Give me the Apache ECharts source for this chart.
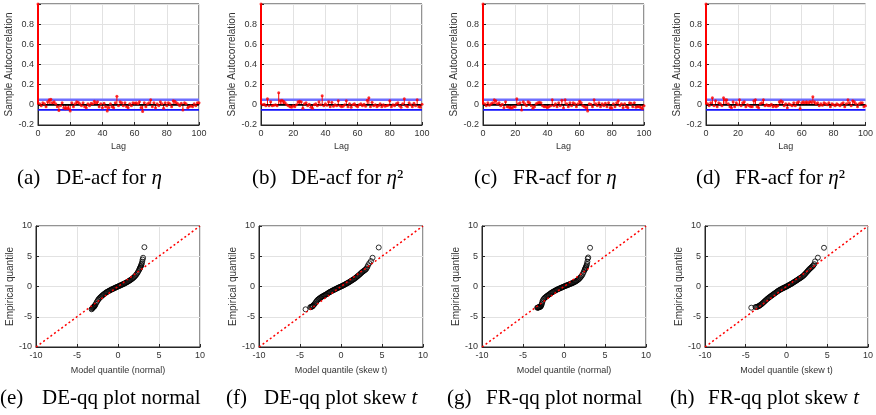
<!DOCTYPE html>
<html><head><meta charset="utf-8">
<script src="https://cdn.jsdelivr.net/npm/echarts@6/dist/echarts.min.js"></script>
<style>html,body{margin:0;padding:0;background:#fff}#c{width:876px;height:415px}</style>
</head><body><div id="c"></div>
<script>
// ---- ACF values, lag 0..100 ----
const acfDEeta = [1,
 0.01,-0.01,0.02,0.01,-0.02,0.03,0.05,0.055,0.02,0.03,
 0.01,-0.02,-0.055,-0.01,0.02,-0.03,-0.04,-0.035,-0.04,-0.06,
 0.02,-0.02,0.01,0.03,0.025,0.01,-0.01,0.02,-0.02,-0.03,
 0.01,-0.01,0.015,0.01,0.035,0.02,0.03,-0.02,0.01,-0.03,
 0.015,-0.02,-0.06,-0.03,0.01,-0.02,-0.03,0.02,0.085,-0.01,
 0.03,0.02,-0.01,0.02,-0.02,-0.03,0.01,-0.01,0.02,0.015,
 0.02,0.01,0.03,-0.03,-0.065,0.02,-0.02,0.01,0.02,0.05,
 -0.02,0.02,-0.03,0.01,-0.01,0.03,0.01,-0.035,0.02,-0.01,
 0.02,0.01,-0.02,0.04,0.035,0.02,0.01,-0.01,0.015,-0.05,
 0.02,0.01,-0.03,-0.02,-0.01,-0.02,0.01,-0.01,0.02,0.02];
const acfDEeta2 = [1,
 0.0,0.005,-0.01,0.06,-0.01,0.03,-0.01,-0.005,0.0,-0.01,
 0.12,0.04,0.045,0.035,0.02,0.0,-0.01,-0.02,-0.025,-0.01,
 -0.02,0.0,0.03,0.035,0.03,-0.035,0.01,0.02,-0.01,0.005,
 -0.025,-0.035,0.0,0.01,-0.01,0.03,0.0,0.09,-0.01,0.01,
 -0.005,0.03,-0.02,0.025,-0.015,0.0,-0.01,0.04,-0.01,-0.02,
 -0.015,0.0,0.04,-0.02,0.01,-0.025,0.0,0.01,-0.01,-0.02,
 0.0,0.01,-0.01,0.005,-0.015,0.045,0.07,-0.02,0.025,-0.01,
 0.0,-0.02,-0.01,0.01,-0.02,0.0,-0.015,-0.01,-0.005,0.04,
 -0.02,0.0,-0.01,0.01,0.02,-0.01,-0.025,0.01,0.06,-0.01,
 -0.02,0.02,0.0,-0.02,0.015,-0.01,0.05,-0.02,-0.025,0.005];
const acfFReta = [1,
 0.01,-0.01,0.02,-0.005,0.01,0.02,0.05,0.04,0.01,0.02,
 -0.01,0.005,-0.03,0.03,-0.02,-0.025,-0.03,-0.035,-0.02,-0.02,
 0.06,0.01,0.02,-0.05,0.03,0.01,-0.01,0.03,0.02,-0.01,
 -0.035,-0.02,0.01,0.02,0.025,0.02,-0.01,-0.02,-0.02,-0.03,
 -0.02,-0.01,0.05,-0.01,0.01,-0.02,0.02,-0.01,0.045,-0.03,
 0.05,0.01,-0.02,0.02,-0.01,0.02,0.01,-0.02,0.01,0.035,
 0.02,-0.01,-0.02,-0.03,-0.06,0.01,0.005,-0.02,0.05,0.01,
 -0.01,0.02,-0.02,0.01,-0.01,0.015,-0.02,0.02,-0.03,-0.035,
 0.01,-0.02,0.02,0.04,-0.01,0.01,-0.03,0.01,-0.02,-0.03,
 0.02,0.015,-0.02,0.02,-0.025,-0.02,-0.02,-0.03,-0.04,-0.01];
const acfFReta2 = [1,
 0.01,-0.01,0.02,0.07,-0.01,0.04,-0.02,0.02,0.01,-0.01,
 0.07,0.05,0.05,0.01,-0.02,-0.03,0.03,-0.02,0.02,0.0,
 0.05,-0.01,0.02,0.03,-0.02,0.0,-0.01,-0.02,-0.02,0.04,
 0.05,-0.02,-0.03,0.01,0.02,0.05,-0.01,0.0,-0.01,-0.01,
 0.005,-0.02,-0.01,-0.02,-0.01,0.03,0.04,0.03,-0.01,0.01,
 -0.03,0.01,0.0,-0.01,0.02,-0.01,0.02,0.03,-0.04,0.02,
 0.03,0.02,0.03,0.02,0.03,0.03,0.08,0.03,0.01,0.02,
 -0.01,0.01,-0.005,0.02,0.01,0.0,0.02,-0.02,0.01,0.0,
 -0.01,0.01,0.0,-0.01,0.01,0.02,-0.02,0.01,0.05,0.02,
 -0.01,0.04,0.03,0.01,-0.02,0.01,0.02,0.02,-0.02,-0.01];
const acfBound = [0.05, -0.05];

// ---- QQ points [model quantile, empirical quantile] ----
const qqDEnormal = [[-3.22,-3.77],[-3.15,-3.65],[-3.1,-3.55],[-3.05,-3.48],[-3.0,-3.4],[-2.95,-3.35],[-2.9,-3.3],[-2.85,-3.2],[-2.8,-3.1],[-2.7,-2.85],[-2.6,-2.6],[-2.5,-2.38],[-2.4,-2.15],[-2.3,-2.0],[-2.2,-1.85],[-2.1,-1.72],[-2.0,-1.6],[-1.9,-1.47],[-1.8,-1.35],[-1.7,-1.25],[-1.6,-1.15],[-1.5,-1.05],[-1.4,-0.95],[-1.3,-0.87],[-1.2,-0.8],[-1.1,-0.72],[-1.0,-0.65],[-0.9,-0.57],[-0.8,-0.5],[-0.7,-0.44],[-0.6,-0.38],[-0.5,-0.31],[-0.4,-0.25],[-0.3,-0.18],[-0.2,-0.12],[-0.1,-0.06],[0,0],[0.1,0.06],[0.2,0.12],[0.3,0.18],[0.4,0.25],[0.5,0.31],[0.6,0.37],[0.7,0.43],[0.8,0.5],[0.9,0.57],[1.0,0.65],[1.1,0.72],[1.2,0.8],[1.3,0.88],[1.4,0.97],[1.5,1.06],[1.6,1.15],[1.7,1.25],[1.8,1.35],[1.9,1.47],[2.0,1.6],[2.1,1.75],[2.2,1.9],[2.3,2.1],[2.4,2.3],[2.5,2.55],[2.6,2.8],[2.65,2.95],[2.7,3.1],[2.75,3.25],[2.8,3.4],[2.85,3.6],[2.9,3.8],[2.95,4.1],[3.0,4.45],[3.06,4.75],[3.22,6.5]];
const qqDEskewt = [[-4.32,-3.77],[-3.75,-3.42],[-3.65,-3.38],[-3.55,-3.33],[-3.5,-3.3],[-3.45,-3.22],[-3.4,-3.15],[-3.3,-3.0],[-3.2,-2.85],[-3.1,-2.65],[-3.0,-2.45],[-2.9,-2.3],[-2.8,-2.15],[-2.7,-2.05],[-2.6,-1.95],[-2.5,-1.85],[-2.4,-1.75],[-2.3,-1.67],[-2.2,-1.6],[-2.1,-1.52],[-2.0,-1.45],[-1.9,-1.37],[-1.8,-1.3],[-1.7,-1.21],[-1.6,-1.12],[-1.5,-1.03],[-1.4,-0.95],[-1.3,-0.87],[-1.2,-0.8],[-1.1,-0.72],[-1.0,-0.65],[-0.9,-0.58],[-0.8,-0.52],[-0.7,-0.45],[-0.6,-0.38],[-0.5,-0.31],[-0.4,-0.25],[-0.3,-0.18],[-0.2,-0.12],[-0.1,-0.06],[0,0],[0.1,0.06],[0.2,0.13],[0.3,0.2],[0.4,0.27],[0.5,0.35],[0.6,0.42],[0.7,0.5],[0.8,0.57],[0.9,0.65],[1.0,0.72],[1.1,0.81],[1.2,0.9],[1.3,0.99],[1.4,1.08],[1.5,1.16],[1.6,1.25],[1.7,1.35],[1.8,1.45],[1.9,1.56],[2.0,1.68],[2.1,1.79],[2.2,1.9],[2.3,2.02],[2.4,2.15],[2.5,2.28],[2.6,2.4],[2.7,2.5],[2.8,2.6],[2.9,2.7],[3.0,2.8],[3.1,2.95],[3.2,3.2],[3.3,3.5],[3.45,3.85],[3.65,4.2],[3.85,4.75],[4.6,6.45]];
const qqFRnormal = [[-3.27,-3.5],[-3.2,-3.5],[-3.15,-3.48],[-3.1,-3.45],[-3.05,-3.43],[-3.0,-3.4],[-2.95,-3.38],[-2.9,-3.35],[-2.85,-3.3],[-2.8,-3.2],[-2.75,-3.05],[-2.7,-2.85],[-2.65,-2.6],[-2.6,-2.35],[-2.5,-2.1],[-2.4,-1.95],[-2.3,-1.82],[-2.2,-1.7],[-2.1,-1.6],[-2.0,-1.5],[-1.9,-1.4],[-1.8,-1.3],[-1.7,-1.2],[-1.6,-1.1],[-1.5,-1.01],[-1.4,-0.92],[-1.3,-0.85],[-1.2,-0.77],[-1.1,-0.7],[-1.0,-0.62],[-0.9,-0.55],[-0.8,-0.48],[-0.7,-0.42],[-0.6,-0.36],[-0.5,-0.3],[-0.4,-0.24],[-0.3,-0.18],[-0.2,-0.12],[-0.1,-0.06],[0,0],[0.1,0.055],[0.2,0.11],[0.3,0.165],[0.4,0.22],[0.5,0.27],[0.6,0.33],[0.7,0.38],[0.8,0.44],[0.9,0.5],[1.0,0.55],[1.1,0.61],[1.2,0.68],[1.3,0.75],[1.4,0.82],[1.5,0.9],[1.6,1.0],[1.7,1.1],[1.8,1.2],[1.9,1.35],[2.0,1.5],[2.1,1.67],[2.2,1.85],[2.3,2.1],[2.4,2.4],[2.5,2.7],[2.55,2.85],[2.6,3.0],[2.65,3.15],[2.7,3.3],[2.75,3.5],[2.8,3.75],[2.85,4.1],[2.9,4.6],[2.95,4.8],[3.18,6.4]];
const qqFRskewt = [[-4.32,-3.5],[-3.8,-3.4],[-3.7,-3.38],[-3.6,-3.35],[-3.5,-3.3],[-3.4,-3.25],[-3.3,-3.15],[-3.2,-3.05],[-3.1,-2.95],[-3.0,-2.85],[-2.9,-2.72],[-2.8,-2.6],[-2.7,-2.47],[-2.6,-2.35],[-2.5,-2.22],[-2.4,-2.1],[-2.3,-1.99],[-2.2,-1.88],[-2.1,-1.78],[-2.0,-1.68],[-1.9,-1.58],[-1.8,-1.48],[-1.7,-1.38],[-1.6,-1.28],[-1.5,-1.19],[-1.4,-1.1],[-1.3,-1.0],[-1.2,-0.9],[-1.1,-0.8],[-1.0,-0.7],[-0.9,-0.62],[-0.8,-0.55],[-0.7,-0.47],[-0.6,-0.4],[-0.5,-0.33],[-0.4,-0.26],[-0.3,-0.2],[-0.2,-0.13],[-0.1,-0.07],[0,0],[0.1,0.07],[0.2,0.15],[0.3,0.22],[0.4,0.3],[0.5,0.37],[0.6,0.45],[0.7,0.53],[0.8,0.62],[0.9,0.71],[1.0,0.8],[1.1,0.88],[1.2,0.96],[1.3,1.05],[1.4,1.15],[1.5,1.24],[1.6,1.33],[1.7,1.41],[1.8,1.5],[1.9,1.6],[2.0,1.7],[2.1,1.82],[2.2,1.95],[2.3,2.1],[2.4,2.25],[2.5,2.4],[2.6,2.55],[2.7,2.7],[2.8,2.85],[2.9,2.97],[3.0,3.1],[3.1,3.22],[3.2,3.35],[3.3,3.5],[3.4,3.7],[3.5,4.15],[3.85,4.77],[4.6,6.4]];
const qqRefLine = [[-10,-10],[10,10]];

// ---- text ----
const acfXName = 'Lag';
const acfYName = 'Sample Autocorrelation';
const qqYName = 'Empirical quantile';
const qqXNames = ['Model quantile (normal)','Model quantile (skew t)','Model quantile (normal)','Model quantile (skew t)'];
const capLabels = ['(a)','(b)','(c)','(d)','(e)','(f)','(g)','(h)'];
const capBodies = ['DE-acf for {i|η}','DE-acf for {i|η}²','FR-acf for {i|η}','FR-acf for {i|η}²',
  'DE-qq plot normal','DE-qq plot skew {i|t}','FR-qq plot normal','FR-qq plot skew {i|t}'];

// ---- layout ----
const acfSets = [acfDEeta, acfDEeta2, acfFReta, acfFReta2];
const qqSets = [qqDEnormal, qqDEskewt, qqFRnormal, qqFRskewt];
const acfLefts = [38, 261, 483, 706];
const qqLefts = [36, 259, 482, 705];
const capX = [17, 252, 474, 696, 0, 226, 447, 670];
const capBodyOff = [39, 39, 39, 39, 42, 38, 39, 38];
const capY = [168, 168, 168, 168, 388, 388, 388, 388];
const CAP_SIZE = 21;

const FONT = '"Liberation Sans", Arial, sans-serif';
const AX = '#262626';
const labelStyle = {fontFamily: FONT, fontSize: 9, color: '#333'};
const grids = [], xAxes = [], yAxes = [], series = [];

function axisCommon() {
  return {
    axisLine: {show: true, onZero: false, lineStyle: {color: AX, width: 1}},
    axisTick: {show: true, inside: true, length: 3, lineStyle: {color: AX}},
    splitLine: {show: true, lineStyle: {color: '#e2e2e2', width: 1}},
    nameTextStyle: {fontFamily: FONT, fontSize: 9, color: '#333'}
  };
}

acfSets.forEach((d, k) => {
  grids.push({left: acfLefts[k], top: 4, width: 161, height: 121, show: true, borderColor: AX, borderWidth: 1});
  xAxes.push(Object.assign(axisCommon(), {gridIndex: k, type: 'value', min: 0, max: 100, interval: 20,
    name: acfXName, nameLocation: 'middle', nameGap: 17,
    axisLabel: Object.assign({margin: 4}, labelStyle)}));
  yAxes.push(Object.assign(axisCommon(), {gridIndex: k, type: 'value', min: -0.2, max: 1, interval: 0.2,
    name: acfYName, nameLocation: 'middle', nameGap: 17, nameTextStyle: {fontFamily: FONT, fontSize: 10, color: '#333'},
    axisLabel: Object.assign({margin: 4, formatter: v => (Math.abs(v - 1) < 1e-9 ? '' : String(+v.toFixed(1)))}, labelStyle)}));
  const pts = d.map((v, i) => [i, v]);
  series.push({type: 'line', xAxisIndex: k, yAxisIndex: k, data: [[0, acfBound[0]], [100, acfBound[0]]], symbol: 'none', silent: true, z: 2,
    lineStyle: {color: '#6e6eff', width: 2.5}});
  series.push({type: 'line', xAxisIndex: k, yAxisIndex: k, data: [[0, acfBound[1]], [100, acfBound[1]]], symbol: 'none', silent: true, z: 2,
    lineStyle: {color: '#1010ff', width: 1.6}});
  series.push({type: 'custom', xAxisIndex: k, yAxisIndex: k, data: pts, silent: true, z: 3,
    renderItem: (params, api) => {
      const lag = api.value(0), val = api.value(1);
      const p0 = api.coord([lag, 0]), p1 = api.coord([lag, val]);
      return {type: 'line', shape: {x1: p0[0], y1: p0[1], x2: p1[0], y2: p1[1]},
        style: {stroke: '#ff0000', lineWidth: lag === 0 ? 2 : 1}};
    }});
  series.push({type: 'line', xAxisIndex: k, yAxisIndex: k, data: [[0, 0], [100, 0]], symbol: 'none', silent: true, z: 4,
    lineStyle: {color: '#000', width: 1.6}});
  series.push({type: 'scatter', xAxisIndex: k, yAxisIndex: k, data: pts, symbol: 'circle', symbolSize: 3, silent: true, z: 5,
    itemStyle: {color: '#ff0000'}});
});

qqSets.forEach((d, j) => {
  const k = j + 4;
  grids.push({left: qqLefts[j], top: 226, width: 164, height: 121, show: true, borderColor: AX, borderWidth: 1});
  xAxes.push(Object.assign(axisCommon(), {gridIndex: k, type: 'value', min: -10, max: 10, interval: 5,
    name: qqXNames[j], nameLocation: 'middle', nameGap: 19,
    axisLabel: Object.assign({margin: 4}, labelStyle)}));
  yAxes.push(Object.assign(axisCommon(), {gridIndex: k, type: 'value', min: -10, max: 10, interval: 5,
    name: qqYName, nameLocation: 'middle', nameGap: 16, nameTextStyle: {fontFamily: FONT, fontSize: 10, color: '#333'},
    axisLabel: Object.assign({margin: 4}, labelStyle)}));
  series.push({type: 'scatter', xAxisIndex: k, yAxisIndex: k, data: d, symbol: 'circle', symbolSize: 5, silent: true, z: 3,
    itemStyle: {color: 'rgba(0,0,0,0)', borderColor: '#000', borderWidth: 1}});
  series.push({type: 'line', xAxisIndex: k, yAxisIndex: k, data: qqRefLine, symbol: 'none', silent: true, z: 4,
    lineStyle: {color: '#ff0000', width: 1.5, type: [2, 2.5]}});
});

const SERIF = '"Liberation Serif", "Times New Roman", serif';
const graphics = [];
capLabels.forEach((lab, i) => {
  graphics.push({type: 'text', left: capX[i], top: capY[i], silent: true,
    style: {text: lab, fontFamily: SERIF, fontSize: CAP_SIZE, fill: '#000'}});
  graphics.push({type: 'text', left: capX[i] + capBodyOff[i], top: capY[i], silent: true,
    style: {text: capBodies[i], fontFamily: SERIF, fontSize: CAP_SIZE, fill: '#000',
      rich: {i: {fontFamily: SERIF, fontSize: CAP_SIZE, fontStyle: 'italic', fill: '#000'}}}});
});

const chart = echarts.init(document.getElementById('c'), null, {renderer: 'canvas'});
chart.setOption({
  animation: false,
  backgroundColor: '#fff',
  grid: grids, xAxis: xAxes, yAxis: yAxes, series: series,
  graphic: graphics
});
</script></body></html>
